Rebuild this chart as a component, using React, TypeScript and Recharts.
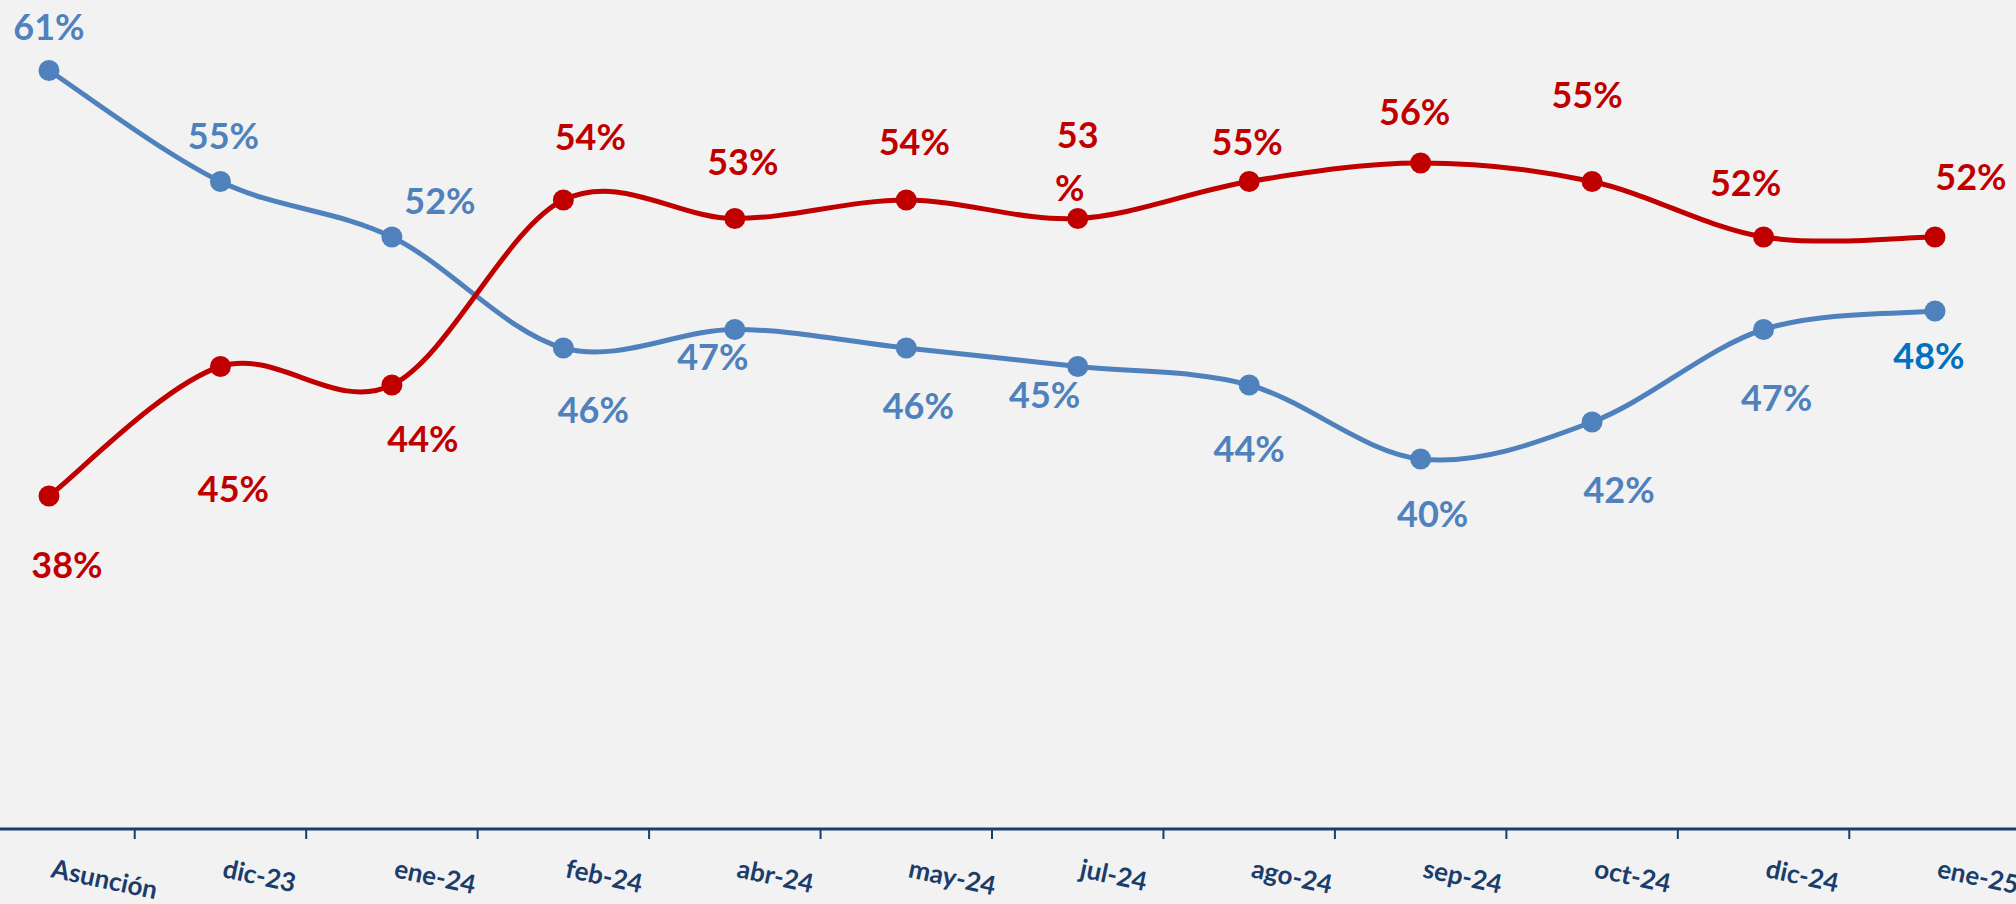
import React from 'react';
import { LineChart, Line, XAxis, YAxis } from 'recharts';

const meses = ['Asunción', 'dic-23', 'ene-24', 'feb-24', 'abr-24', 'may-24', 'jul-24', 'ago-24', 'sep-24', 'oct-24', 'dic-24', 'ene-25'];
const aprueba = [61, 55, 52, 46, 47, 46, 45, 44, 40, 42, 47, 48];
const desaprueba = [38, 45, 44, 54, 53, 54, 53, 55, 56, 55, 52, 52];

// where each value label sits relative to its point (dx, dy)
const azulLabel: [number, number][] = [
    [0, -44], [3, -46], [48, -36], [30, 62], [-22, 27], [12, 58],
    [-33, 28], [0, 64], [12, 55], [27, 68], [13, 68], [-6, 45],
];
const rojoLabel: [number, number][] = [
    [18, 69], [13, 122], [31, 54], [27, -63], [8, -57], [8, -58],
    [0, -84], [-2, -40], [-6, -51], [-5, -87], [-18, -54], [36, -60],
];

const data = meses.map((mes, i) => ({ mes, aprueba: aprueba[i], desaprueba: desaprueba[i] }));

const W = 2016;
const H = 904;
const PAD_L = 49;
const PAD_R = 81;
const STEP = (W - PAD_L - PAD_R) / (meses.length - 1);

const NAVY = '#1b3d6b';
const AZUL = '#4f81bd';
const ROJO = '#c00000';
const FONT = "Lato, 'Open Sans', sans-serif";

// Excel style smoothed line (Catmull-Rom through the points)
function suave(context: any) {
    let pts: number[][] = [];
    return {
        areaStart() {},
        areaEnd() {},
        lineStart() { pts = []; },
        lineEnd() {
            if (!pts.length) return;
            context.moveTo(pts[0][0], pts[0][1]);
            for (let i = 0; i < pts.length - 1; i++) {
                const p0 = pts[Math.max(i - 1, 0)];
                const p1 = pts[i];
                const p2 = pts[i + 1];
                const p3 = pts[Math.min(i + 2, pts.length - 1)];
                context.bezierCurveTo(
                    p1[0] + (p2[0] - p0[0]) / 6, p1[1] + (p2[1] - p0[1]) / 6,
                    p2[0] - (p3[0] - p1[0]) / 6, p2[1] - (p3[1] - p1[1]) / 6,
                    p2[0], p2[1]
                );
            }
        },
        point(x: number, y: number) { pts.push([+x, +y]); },
    };
}

function MesTick(props: any) {
    const { x, y, payload } = props;
    const ty = y + 48;
    return (
        <g>
            <line x1={x + STEP / 2} x2={x + STEP / 2} y1={y} y2={y + 10} stroke={NAVY} strokeWidth={2} />
            <text
                x={x + 1}
                y={ty}
                transform={`rotate(12, ${x + 1}, ${ty})`}
                textAnchor="start"
                fill={NAVY}
                fontSize={26}
                fontWeight={700}
                fontFamily={FONT}
            >
                {payload.value}
            </text>
        </g>
    );
}

function makeDot(color: string, offsets: [number, number][], key: 'aprueba' | 'desaprueba') {
    return (props: any) => {
        const { cx, cy, index, payload } = props;
        const [dx, dy] = offsets[index];
        const v = payload[key];
        const txtColor = key === 'aprueba' && index === meses.length - 1 ? '#0070c0' : color;
        const split = key === 'desaprueba' && index === 6;
        return (
            <g key={`${key}-${index}`}>
                <circle cx={cx} cy={cy} r={10.5} fill={color} />
                {split ? (
                    <text textAnchor="middle" fill={txtColor} fontSize={36} fontWeight={700} fontFamily={FONT}>
                        <tspan x={cx + dx} y={cy + dy + 13}>{v}</tspan>
                        <tspan x={cx + dx - 8} y={cy - 31 + 13}>%</tspan>
                    </text>
                ) : (
                    <text
                        x={cx + dx}
                        y={cy + dy + 13}
                        textAnchor="middle"
                        fill={txtColor}
                        fontSize={36}
                        fontWeight={700}
                        fontFamily={FONT}
                    >
                        {`${v}%`}
                    </text>
                )}
            </g>
        );
    };
}

export default function App() {
    return (
        <div style={{ position: 'fixed', left: 0, top: 0, width: W, height: H, background: '#f2f2f2' }}>
            <LineChart width={W} height={H} data={data} margin={{ top: 15, right: 0, bottom: 0, left: 0 }}>
                <XAxis
                    dataKey="mes"
                    padding={{ left: PAD_L, right: PAD_R }}
                    axisLine={{ stroke: NAVY, strokeWidth: 3 }}
                    tickLine={false}
                    tickSize={0}
                    tickMargin={0}
                    interval={0}
                    height={75}
                    tick={<MesTick />}
                />
                <YAxis hide type="number" domain={[20, 64]} />
                <Line
                    dataKey="aprueba"
                    type={suave as any}
                    stroke={AZUL}
                    strokeWidth={5}
                    dot={makeDot(AZUL, azulLabel, 'aprueba')}
                    activeDot={false}
                    isAnimationActive={false}
                />
                <Line
                    dataKey="desaprueba"
                    type={suave as any}
                    stroke={ROJO}
                    strokeWidth={5}
                    dot={makeDot(ROJO, rojoLabel, 'desaprueba')}
                    activeDot={false}
                    isAnimationActive={false}
                />
            </LineChart>
        </div>
    );
}
